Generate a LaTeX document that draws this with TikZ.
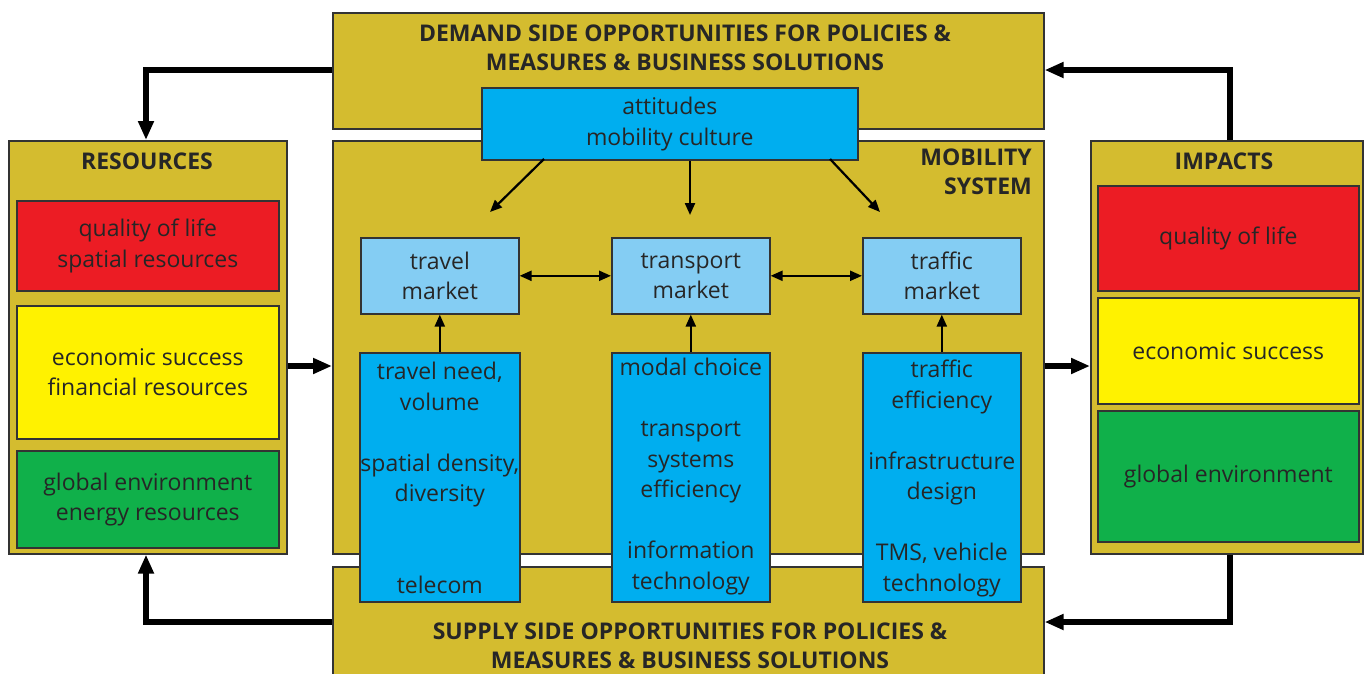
\documentclass[tikz,border=0pt]{standalone}
\usepackage{fontspec}
\setmainfont{Open Sans}
\usetikzlibrary{arrows.meta}
\definecolor{mustard}{HTML}{D4BC2F}
\definecolor{framegray}{HTML}{333333}
\definecolor{deepblue}{HTML}{00AEEF}
\definecolor{paleblue}{HTML}{84CDF3}
\definecolor{boxred}{HTML}{EC1C24}
\definecolor{boxyellow}{HTML}{FFF200}
\definecolor{boxgreen}{HTML}{10B04A}
\begin{document}
\begin{tikzpicture}[x=1pt,y=-1pt,
 every node/.style={font=\fontsize{23}{30.5}\selectfont,text=black!85},
 box/.style={draw=framegray,line width=1.6pt,anchor=north west,inner sep=0pt,align=center},
 panel/.style={box,fill=mustard},
 head/.style={font=\bfseries\fontsize{23}{29}\selectfont,align=center,inner sep=0pt},
 col/.style={box,fill=deepblue},
 market/.style={box,fill=paleblue},
 thin/.style={line width=2.2pt,-{Triangle[length=12pt,width=10pt]}},
 both/.style={line width=2.2pt,{Triangle[length=12pt,width=10pt]}-{Triangle[length=12pt,width=10pt]}},
 thick/.style={line width=6.5pt,-{Triangle[length=19pt,width=15pt]}}]
\useasboundingbox (0,0) rectangle (1368,673);
\node[panel,minimum width=711pt,minimum height=116pt] (demand) at (332,12) {};
\node[panel,minimum width=711pt,minimum height=413pt] (mobility) at (332,140) {};
\node[panel,minimum width=711pt,minimum height=130pt] (supply) at (332,566) {};
\node[panel,minimum width=278pt,minimum height=413pt] (resources) at (8,140) {};
\node[panel,minimum width=272pt,minimum height=413pt] (impacts) at (1090,140) {};
\node[head,anchor=north] (demandtxt) at (685,25) {DEMAND SIDE OPPORTUNITIES FOR POLICIES \&\\MEASURES \& BUSINESS SOLUTIONS};
\node[head,anchor=north] (supplytxt) at (690,623) {SUPPLY SIDE OPPORTUNITIES FOR POLICIES \&\\MEASURES \& BUSINESS SOLUTIONS};
\node[head,anchor=north east,align=right] (mobilitytxt) at (1032,149) {MOBILITY\\SYSTEM};
\node[head] (resourcestxt) at (147,161) {RESOURCES};
\node[head] (impactstxt) at (1224,161) {IMPACTS};
\node[box,fill=deepblue,minimum width=376pt,minimum height=72pt] (attitudes) at (481,87) {attitudes\\mobility culture};
\node[box,fill=boxred,minimum width=262pt,minimum height=90pt] (resq) at (16,200) {quality of life\\spatial resources};
\node[box,fill=boxyellow,minimum width=262pt,minimum height=133pt] (rese) at (16,305) {economic success\\financial resources};
\node[box,fill=boxgreen,minimum width=262pt,minimum height=97pt] (resg) at (16,450) {global environment\\energy resources};
\node[box,fill=boxred,minimum width=261pt,minimum height=105pt] (impq) at (1097,185) {quality of life};
\node[box,fill=boxyellow,minimum width=261pt,minimum height=106pt] (impe) at (1097,297) {economic success};
\node[box,fill=boxgreen,minimum width=261pt,minimum height=131pt] (impg) at (1097,410) {global environment};
\node[market,minimum width=158pt,minimum height=76pt] (travel) at (360,237) {travel\\market};
\node[market,minimum width=158pt,minimum height=76pt] (transport) at (611,237) {transport\\market};
\node[market,minimum width=158pt,minimum height=76pt] (traffic) at (862,237) {traffic\\market};
\node[col,minimum width=160pt,minimum height=249pt] (travelcol) at (359,352) {};
\node[col,minimum width=158pt,minimum height=249pt] (transportcol) at (611,352) {};
\node[col,minimum width=158pt,minimum height=249pt] (trafficcol) at (862,352) {};
\node[anchor=north,align=center,inner sep=0pt] (traveltxt) at (travelcol.north) [yshift=-10pt]
 {travel need,\\volume\\\mbox{}\\spatial density,\\diversity\\\mbox{}\\\mbox{}\\telecom};
\node[anchor=north,align=center,inner sep=0pt] (transporttxt) at (transportcol.north) [yshift=-6pt]
 {modal choice\\\mbox{}\\transport\\systems\\efficiency\\\mbox{}\\information\\technology};
\node[anchor=north,align=center,inner sep=0pt] (traffictxt) at (trafficcol.north) [yshift=-8pt]
 {traffic\\efficiency\\\mbox{}\\infrastructure\\design\\\mbox{}\\TMS, vehicle\\technology};
\draw[thin] (544,159) -- (490,212);
\draw[thin] (attitudes.south -| 690,0) -- (690,215);
\draw[thin] (830,159) -- (880,212);
\draw[both] (travel.east) -- (transport.west);
\draw[both] (transport.east) -- (traffic.west);
\draw[thin] (travelcol.north) -- (travel.south);
\draw[thin] (transportcol.north) -- (transport.south);
\draw[thin] (trafficcol.north) -- (traffic.south);
\draw[thick] (resources.east |- 0,366) -- (mobility.west |- 0,366);
\draw[thick] (mobility.east |- 0,366) -- (impacts.west |- 0,366);
\draw[thick] (demand.west |- 0,70) -- (146,70) -- (resources.north -| 146,0);
\draw[thick] (impacts.north -| 1230,0) -- (1230,70) -- (demand.east |- 0,70);
\draw[thick] (supply.west |- 0,622) -- (146,622) -- (resources.south -| 146,0);
\draw[thick] (impacts.south -| 1230,0) -- (1230,622) -- (supply.east |- 0,622);
\end{tikzpicture}
\end{document}
